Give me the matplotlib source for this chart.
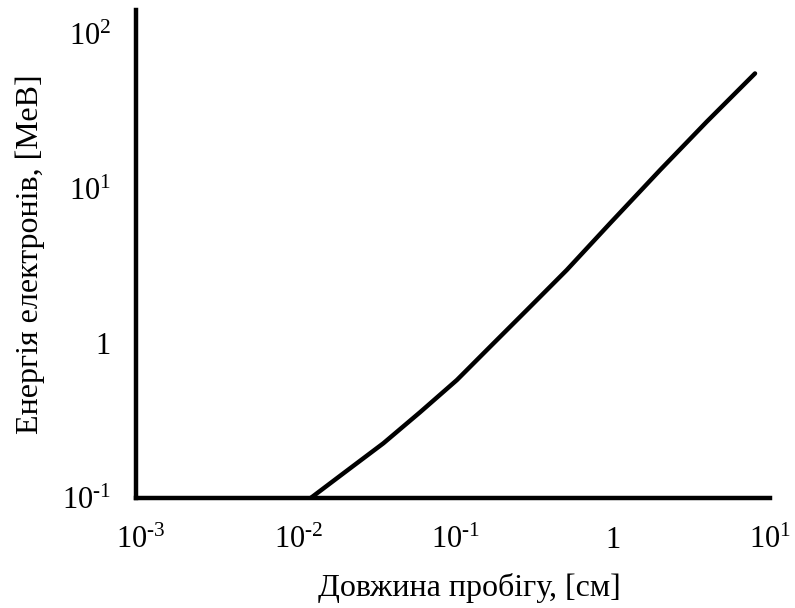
import matplotlib
matplotlib.use("Agg")
import matplotlib.pyplot as plt

# Data (range in cm vs electron energy in MeV)
range_cm = [0.0120, 0.0193, 0.0348, 0.0594, 0.102, 0.166, 0.284, 0.510,
            0.961, 2.00, 3.96, 8.03]
energy_mev = [0.100, 0.144, 0.226, 0.358, 0.579, 0.951, 1.64, 2.98,
              5.97, 13.2, 27.1, 55.6]

x_ticks = [1e-3, 1e-2, 1e-1, 1, 10]
x_tick_labels = [r"$\mathregular{10^{\text{-}3}}$", r"$\mathregular{10^{\text{-}2}}$",
                 r"$\mathregular{10^{\text{-}1}}$", "1", r"$\mathregular{10^{1}}$"]
y_ticks = [0.1, 1, 10, 100]
y_tick_labels = [r"$\mathregular{10^{\text{-}1}}$", "1", r"$\mathregular{10^{1}}$",
                 r"$\mathregular{10^{2}}$"]

x_label = "Довжина пробігу, [см]"
y_label = "Енергія електронів, [МеВ]"

plt.rcParams["font.family"] = ["Liberation Serif", "DejaVu Serif"]
plt.rcParams["mathtext.fontset"] = "custom"
plt.rcParams["mathtext.rm"] = "Liberation Serif"
plt.rcParams["mathtext.it"] = "Liberation Serif"

W, H = 795, 608
fig = plt.figure(figsize=(W / 100, H / 100), dpi=100)
left, right, top, bottom = 136, 770, 10, 498
ax = fig.add_axes([left / W, 1 - bottom / H, (right - left) / W, (bottom - top) / H])

ax.plot(range_cm, energy_mev, color="black", lw=3.2,
        solid_capstyle="round", solid_joinstyle="round")

ax.set_xscale("log")
ax.set_yscale("log")
ax.set_xlim(9.29e-4, 10)
ax.set_ylim(0.1, 143)

ax.set_xticks(x_ticks)
ax.set_xticklabels(x_tick_labels)
ax.set_yticks(y_ticks)
ax.set_yticklabels(y_tick_labels)
ax.minorticks_off()
ax.tick_params(axis="both", length=0, labelsize=22)
ax.tick_params(axis="x", pad=20)
ax.tick_params(axis="y", pad=18)

for s in ["top", "right"]:
    ax.spines[s].set_visible(False)
for s in ["left", "bottom"]:
    ax.spines[s].set_linewidth(3.2)
    ax.spines[s].set_color("black")

ax.set_xlabel(x_label, fontsize=23)
ax.set_ylabel(y_label, fontsize=23)
ax.xaxis.set_label_coords((469 - left) / (right - left), -(588 - bottom) / (bottom - top))
ax.yaxis.set_label_coords(-(136 - 30) / (right - left), 0.5)
ax.xaxis.label.set_va("center")
ax.yaxis.label.set_va("center")

fig.savefig("out.png", dpi=100)
